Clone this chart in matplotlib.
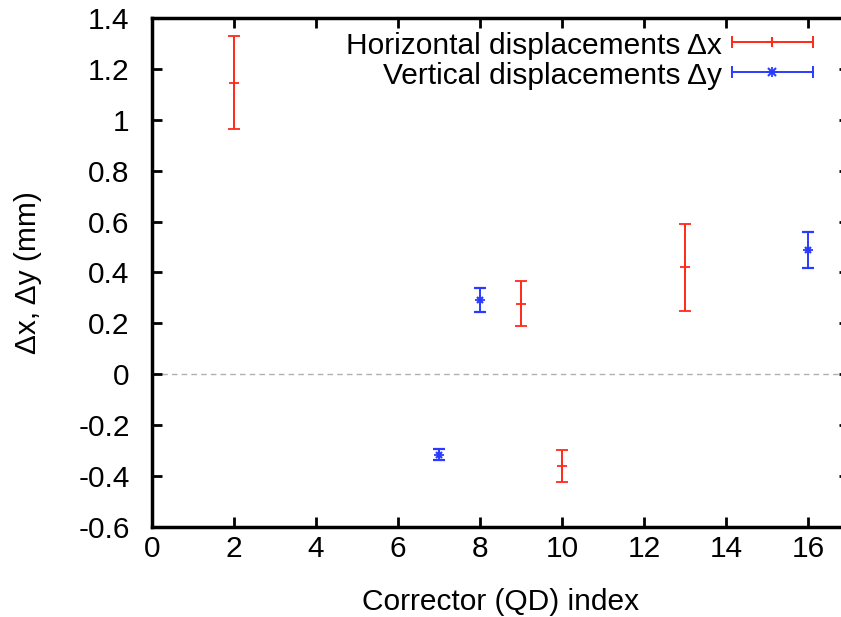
import numpy as np
import matplotlib.pyplot as plt

plt.rcParams['font.family'] = ['Liberation Sans', 'DejaVu Sans']

# horizontal displacements (red)
hx = [2, 9, 10, 13]
hy = [1.146, 0.278, -0.360, 0.420]
herr = [0.183, 0.087, 0.063, 0.172]

# vertical displacements (blue)
vx = [7, 8, 16]
vy = [-0.316, 0.292, 0.488]
verr = [0.022, 0.047, 0.072]

fs = 21.5
red = '#ff2a1a'
blue = '#2a3bff'

fig = plt.figure(figsize=(8.41, 6.17), dpi=100)
ax = fig.add_axes([0.1807, 0.1459, 0.8288, 0.8249])

ax.axhline(0, color='#b0b0b0', linestyle=(0, (4, 3)), linewidth=1, zorder=1)

ax.errorbar(hx, hy, yerr=herr, fmt='+', color=red, ecolor=red, elinewidth=1.4,
            capsize=4.5, capthick=1.4, markersize=7, markeredgewidth=1.3, zorder=3)
ax.errorbar(vx, vy, yerr=verr, fmt='x', color=blue, ecolor=blue, elinewidth=1.4,
            capsize=4.5, capthick=1.4, markersize=5, markeredgewidth=1.6, zorder=3)
ax.plot(vx, vy, '+', color=blue, markersize=7, markeredgewidth=1.3, zorder=3)

ax.set_xlim(0, 17)
ax.set_ylim(-0.6, 1.4)
ax.set_xticks(np.arange(0, 17, 2))
ax.set_yticks(np.arange(-0.6, 1.41, 0.2))
ax.set_yticklabels(['-0.6', '-0.4', '-0.2', '0', '0.2', '0.4', '0.6', '0.8', '1', '1.2', '1.4'])

ax.tick_params(direction='in', length=7, width=2, top=True, right=True,
               labelsize=fs, colors='black')
ax.tick_params(axis='x', pad=6)
ax.tick_params(axis='y', pad=16)
for s in ax.spines.values():
    s.set_linewidth(2.5)

ax.set_xlabel('Corrector (QD) index', fontsize=fs, labelpad=18)
ax.set_ylabel('\u0394x, \u0394y (mm)', fontsize=fs, labelpad=26)

# legend drawn gnuplot style
rows = [('Horizontal displacements \u0394x', red, '+', 0.953),
        ('Vertical displacements \u0394y', blue, 'x', 0.894)]
for label, c, m, yy in rows:
    ax.text(0.818, yy - 0.007, label, transform=ax.transAxes, ha='right', va='center', fontsize=fs)
    ax.plot([0.832, 0.948], [yy, yy], color=c, lw=1.4, transform=ax.transAxes, clip_on=False)
    ax.plot([0.832, 0.948], [yy, yy], '|', color=c, ms=9, mew=1.4, transform=ax.transAxes, clip_on=False)
    ax.plot([0.89], [yy], m, color=c, ms=6 if m == 'x' else 7, mew=1.5, transform=ax.transAxes, clip_on=False)
    if m == 'x':
        ax.plot([0.89], [yy], '+', color=c, ms=7, mew=1.3, transform=ax.transAxes, clip_on=False)

fig.savefig('out.png', dpi=100)
